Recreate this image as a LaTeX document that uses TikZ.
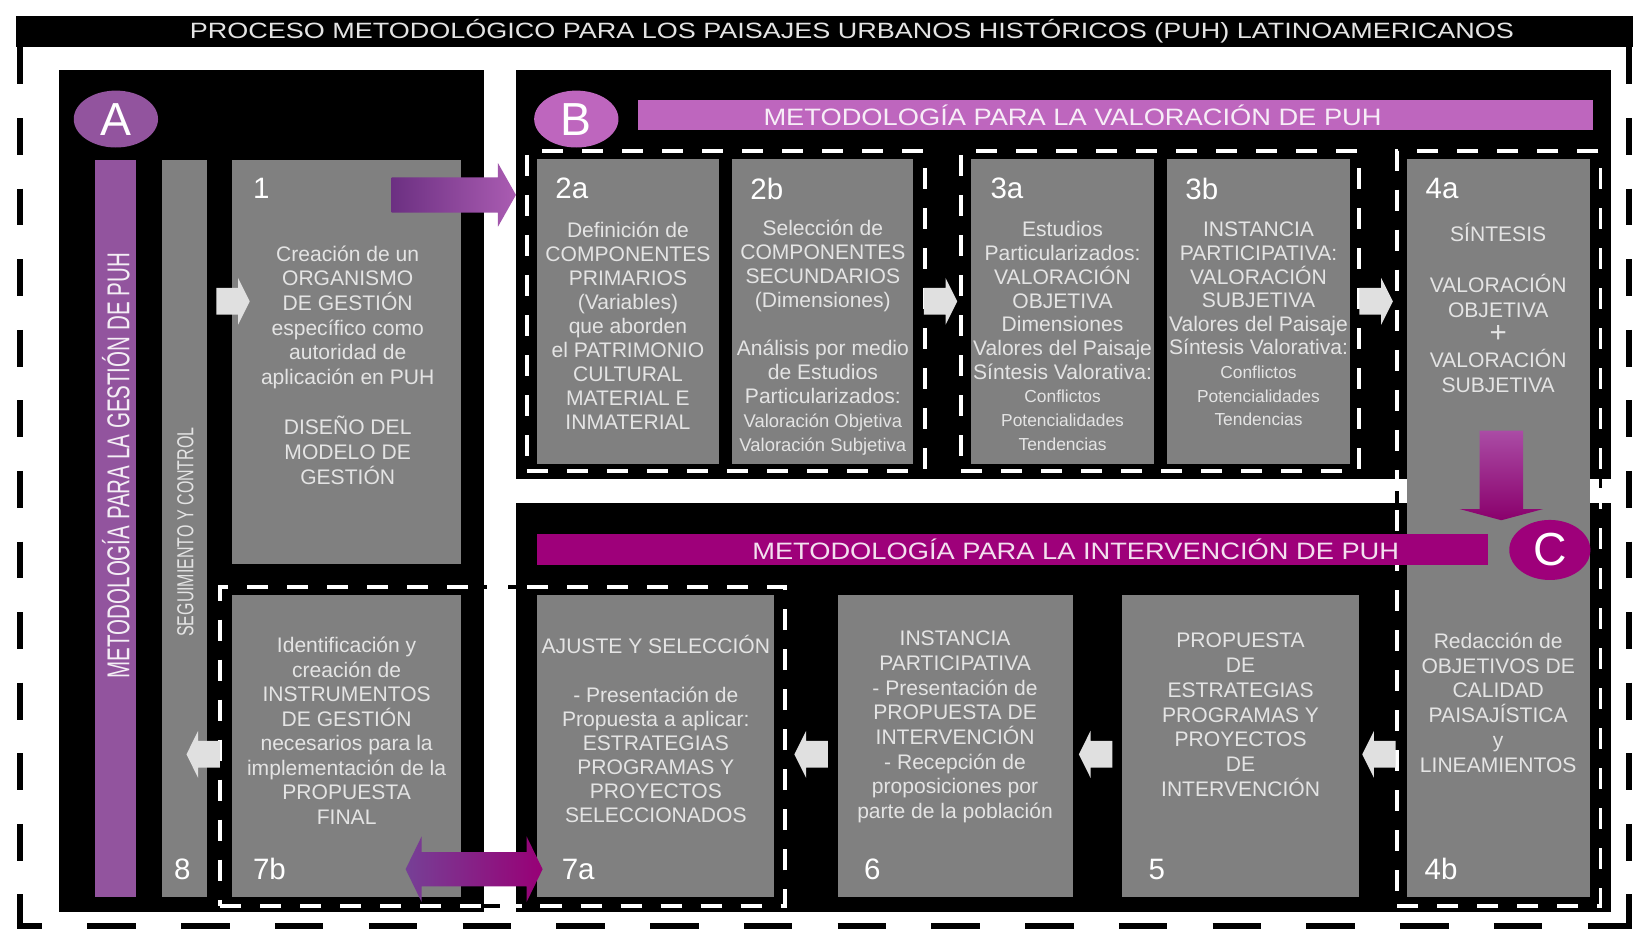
\documentclass[tikz,border=0pt]{standalone}
\usepackage{fontspec}
\setmainfont{Liberation Sans}
\usepackage{graphicx}
\usepackage{tikz}
\usetikzlibrary{positioning,calc,shapes.geometric,shapes.arrows}

\definecolor{moradoA}{RGB}{146,84,158}
\definecolor{moradoB}{RGB}{190,102,190}
\definecolor{moradoC}{RGB}{158,0,122}
\definecolor{gris}{RGB}{128,128,128}
\definecolor{textogris}{RGB}{228,228,228}
\definecolor{flechagris}{RGB}{224,224,224}
\newcommand{\tam}[2]{\fontsize{#1}{#2}\selectfont}

\begin{document}
\begin{tikzpicture}[x=1pt,y=-1pt,
    panel/.style={fill=black, inner sep=0pt},
    caja/.style={fill=gris, inner sep=0pt},
    grupo/.style={draw=white, line width=3.5pt, dash pattern=on 20pt off 18pt, inner sep=0pt,
        preaction={draw=black, line width=3.5pt, dash pattern=on 20pt off 18pt, dash phase=20pt}},
    txt/.style={text=textogris, align=center, inner sep=0pt, font=\tam{20}{23.3}},
    num/.style={text=white, inner sep=0pt, anchor=west, font=\tam{28}{28}},
    letra/.style={ellipse, inner sep=0pt, minimum width=80pt, minimum height=54pt, text=white, font=\tam{44}{44}},
    flecha/.style={single arrow, fill=flechagris, inner sep=12.5pt, minimum height=29pt, minimum width=44pt,
        single arrow head extend=9.5pt, single arrow tip angle=127},
    marco/.style={line width=6pt, dash pattern=on 35pt off 32pt}]

\useasboundingbox (0,0) rectangle (1568,891);

% marco exterior
\draw[marco] (19,45) -- (19,879);
\draw[marco, dash pattern=on 46pt off 43pt, dash phase=22pt] (16,879) -- (1549,879);
\draw[marco] (1546,45) -- (1546,879);
\node[panel, minimum width=1535pt, minimum height=30pt] (titulo) at (782.5,30) {};
\node[text=textogris, inner sep=0pt, font=\tam{21}{21}] at ($(titulo.center)+(26,0)$)
    {\scalebox{1.22}[1]{PROCESO METODOLÓGICO PARA LOS PAISAJES URBANOS HISTÓRICOS (PUH) LATINOAMERICANOS}};

% paneles
\node[panel, minimum width=403pt, minimum height=800pt] (panA) at (257.5,466) {};
\node[panel, minimum width=1039pt, minimum height=389pt] (panB) at (1009.5,260.5) {};
\node[panel, minimum width=1039pt, minimum height=389pt] (panC) at (1009.5,671.5) {};

% grupos
\node[grupo, minimum width=378pt, minimum height=304pt] (g2) at (689,295) {};
\node[grupo, minimum width=378pt, minimum height=304pt] (g3) at (1101,295) {};
\node[grupo, minimum width=193pt, minimum height=717pt] (g4) at (1422.5,501.5) {};
\node[grupo, minimum width=536pt, minimum height=303pt] (g7) at (477,708.5) {};

% cajas
\node[caja, fill=moradoA, minimum width=39pt, minimum height=699pt] (barA) at (109.5,501.5) {};
\node[caja, minimum width=42pt, minimum height=699pt] (b8) at (175,501.5) {};
\node[caja, minimum width=218pt, minimum height=383pt] (b1) at (329,343.5) {};
\node[caja, minimum width=172pt, minimum height=289pt] (b2a) at (596,295.5) {};
\node[caja, minimum width=172pt, minimum height=289pt] (b2b) at (781,295.5) {};
\node[caja, minimum width=173pt, minimum height=289pt] (b3a) at (1008.5,295.5) {};
\node[caja, minimum width=173pt, minimum height=289pt] (b3b) at (1194.5,295.5) {};
\node[caja, minimum width=174pt, minimum height=700pt] (b4) at (1422,501) {};
\node[caja, minimum width=218pt, minimum height=286pt] (b7b) at (329,708) {};
\node[caja, minimum width=225pt, minimum height=286pt] (b7a) at (622.5,708) {};
\node[caja, minimum width=223pt, minimum height=286pt] (b6) at (906.5,708) {};
\node[caja, minimum width=225pt, minimum height=286pt] (b5) at (1177.5,708) {};

% barras de titulo
\node[caja, fill=moradoB, minimum width=906pt, minimum height=28pt] (barB) at (1059,109) {};
\node[caja, fill=moradoC, minimum width=902pt, minimum height=29pt] (barC) at (961,521.5) {};
\node[text=white!88!moradoB, inner sep=0pt, font=\tam{22.5}{22.5}] at (1018,109)
    {\scalebox{1.15}[1]{METODOLOGÍA PARA LA VALORACIÓN DE PUH}};
\node[text=white!88!moradoC, inner sep=0pt, font=\tam{22.5}{22.5}] at (1021,521)
    {\scalebox{1.15}[1]{METODOLOGÍA PARA LA INTERVENCIÓN DE PUH}};
\node[rotate=90, text=white!90!moradoA, inner sep=0pt, font=\tam{30}{30}] at (110,442)
    {\scalebox{0.65}[1]{METODOLOGÍA PARA LA GESTIÓN DE PUH}};
\node[rotate=90, text=textogris, inner sep=0pt, font=\tam{22}{22}] at (176,505)
    {\scalebox{0.69}[1]{SEGUIMIENTO Y CONTROL}};

% flechas
\node[flecha] (f81) at (218,286) {};
\node[flecha] (f23) at (889.5,286) {};
\node[flecha] (f34) at (1303,286) {};
\node[flecha, shape border rotate=180] (f78) at (196,716) {};
\node[flecha, shape border rotate=180] (f67) at (773,716) {};
\node[flecha, shape border rotate=180] (f56) at (1043,716) {};
\node[flecha, shape border rotate=180] (f45) at (1312,716) {};
\node[single arrow, inner sep=16.5pt, minimum height=118pt, minimum width=60pt,
    single arrow head extend=13.5pt, single arrow tip angle=121,
    left color={rgb,255:red,108;green,48;blue,130}, right color={rgb,255:red,170;green,92;blue,178}] (f1B) at (426,185) {};
\node[single arrow, shape border rotate=270, inner sep=20.5pt, minimum height=85pt, minimum width=79pt,
    single arrow head extend=19pt, single arrow tip angle=150,
    top color={rgb,255:red,170;green,76;blue,165}, bottom color={rgb,255:red,138;green,0;blue,108}] (f4C) at (1425,448.5) {};
\node[double arrow, inner sep=16pt, minimum height=130pt, minimum width=62pt,
    double arrow head extend=15pt, double arrow tip angle=128,
    left color={rgb,255:red,118;green,64;blue,150}, right color={rgb,255:red,152;green,0;blue,118}] (f77) at (450,825) {};

% letras
\node[letra, fill=moradoA] (circA) at (110,113) {A};
\node[letra, fill=moradoB] (circB) at (547,113) {B};
\node[letra, fill=moradoC, minimum width=77pt, minimum height=57pt] (circC) at (1471,522) {C};

% numeros
\node[num] at (240,179) {1};
\node[num] at (527,179) {2a};
\node[num] at (712,179) {2b};
\node[num] at (940,179) {3a};
\node[num] at (1125,179) {3b};
\node[num] at (1353,179) {4a};
\node[num, anchor=center] at (173,825) {8};
\node[num] at (240,825) {7b};
\node[num] at (533,825) {7a};
\node[num] at (820,825) {6};
\node[num] at (1090,825) {5};
\node[num] at (1352,825) {4b};

% textos
\node[txt] at (330,346.5) {Creación de un\\ORGANISMO\\DE GESTIÓN\\específico como\\autoridad de\\aplicación en PUH\\[25pt]DISEÑO DEL\\MODELO DE\\GESTIÓN};
\node[txt, font=\tam{20}{22.8}] at (596,309) {Definición de\\COMPONENTES\\PRIMARIOS\\(Variables)\\que aborden\\el PATRIMONIO\\CULTURAL\\MATERIAL E\\INMATERIAL};
\node[txt, font=\tam{20}{22.8}] at (781,320.5) {Selección de\\COMPONENTES\\SECUNDARIOS\\(Dimensiones)\\[22.8pt]Análisis por medio\\de Estudios\\Particularizados:\\{\tam{17.5}{20}Valoración Objetiva}\\{\tam{17.5}{20}Valoración Subjetiva}};
\node[txt, font=\tam{20}{22.5}] at (1008.5,319) {Estudios\\Particularizados:\\VALORACIÓN\\OBJETIVA\\Dimensiones\\Valores del Paisaje\\Síntesis Valorativa:\\{\tam{16.5}{20}Conflictos}\\{\tam{16.5}{20}Potencialidades}\\{\tam{16.5}{20}Tendencias}};
\node[txt, font=\tam{20}{22.4}] at (1194.5,307.5) {INSTANCIA\\PARTICIPATIVA:\\VALORACIÓN\\SUBJETIVA\\Valores del Paisaje\\Síntesis Valorativa:\\{\tam{16.5}{20}Conflictos}\\{\tam{16.5}{20}Potencialidades}\\{\tam{16.5}{20}Tendencias}};
\node[txt, font=\tam{20}{23.8}] at (1422,292.5) {SÍNTESIS\\[24pt]VALORACIÓN\\OBJETIVA\\{\tam{28}{20}+}\\VALORACIÓN\\SUBJETIVA};
\node[txt] at (329,693.5) {Identificación y\\creación de\\INSTRUMENTOS\\DE GESTIÓN\\necesarios para la\\implementación de la\\PROPUESTA\\FINAL};
\node[txt, font=\tam{20}{22.8}] at (622.5,692) {AJUSTE Y SELECCIÓN\\[23pt]- Presentación de\\Propuesta a aplicar:\\ESTRATEGIAS\\PROGRAMAS Y\\PROYECTOS\\SELECCIONADOS};
\node[txt, font=\tam{20}{23.4}] at (906.5,690) {INSTANCIA\\PARTICIPATIVA\\- Presentación de\\PROPUESTA DE\\INTERVENCIÓN\\- Recepción de\\proposiciones por\\parte de la población};
\node[txt, font=\tam{20}{23.5}] at (1177.5,678.5) {PROPUESTA\\DE\\ESTRATEGIAS\\PROGRAMAS Y\\PROYECTOS\\DE\\INTERVENCIÓN};
\node[txt, font=\tam{20}{23.6}] at (1422,667) {Redacción de\\OBJETIVOS DE\\CALIDAD\\PAISAJÍSTICA\\y\\LINEAMIENTOS};

\end{tikzpicture}
\end{document}
